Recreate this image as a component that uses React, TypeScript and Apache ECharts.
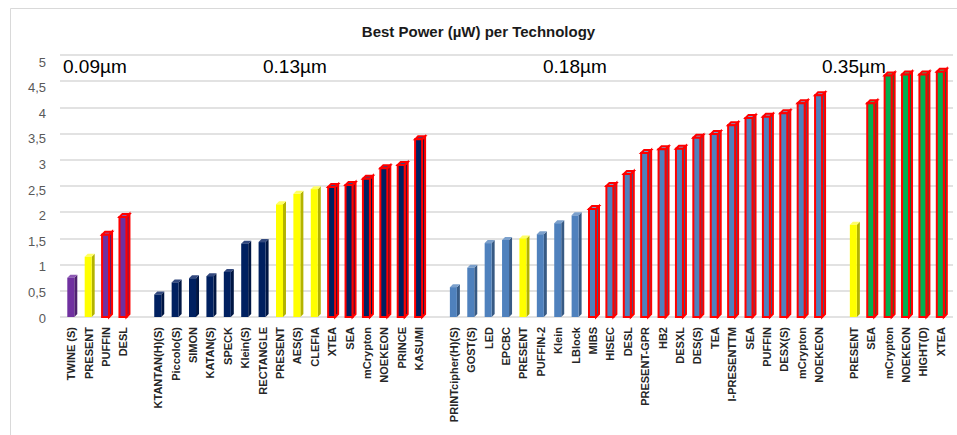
import React, { useEffect, useRef } from "react";
import * as echarts from "echarts";

// Categories (empty strings are the gaps between technology groups)
const categories: string[] = [
  "TWINE (S)", "PRESENT", "PUFFIN", "DESL",
  "",
  "KTANTAN(H)(S)", "Piccolo(S)", "SIMON", "KATAN(S)", "SPECK", "Klein(S)", "RECTANGLE",
  "PRESENT", "AES(S)", "CLEFIA", "XTEA", "SEA", "mCrypton", "NOEKEON", "PRINCE", "KASUMI",
  "",
  "PRINTcipher(H)(S)", "GOST(S)", "LED", "EPCBC", "PRESENT", "PUFFIN-2", "Klein", "LBlock",
  "MIBS", "HISEC", "DESL", "PRESENT-GPR", "HB2", "DESXL", "DES(S)", "TEA", "I-PRESENTTM",
  "SEA", "PUFFIN", "DESX(S)", "mCrypton", "NOEKEON",
  "",
  "PRESENT", "SEA", "mCrypton", "NOEKEON", "HIGHT(D)", "XTEA",
];

// Best power (µW)
const values: (number | null)[] = [
  0.75, 1.15, 1.57, 1.91,
  null,
  0.43, 0.66, 0.74, 0.78, 0.86, 1.40, 1.43, 2.15, 2.35, 2.44, 2.48, 2.52, 2.64, 2.84, 2.90, 3.39,
  null,
  0.57, 0.94, 1.41, 1.47, 1.50, 1.58, 1.79, 1.94, 2.06, 2.50, 2.73, 3.13, 3.20, 3.21, 3.42, 3.49,
  3.66, 3.80, 3.82, 3.89, 4.08, 4.23,
  null,
  1.76, 4.08, 4.61, 4.63, 4.63, 4.68,
];

// Fill kind per bar
const fills: string[] = [
  "purple", "yellow", "purple", "purple",
  "",
  "navy", "navy", "navy", "navy", "navy", "navy", "navy", "yellow", "yellow", "yellow",
  "navy", "navy", "navy", "navy", "navy", "navy",
  "",
  "blue", "blue", "blue", "blue", "yellow", "blue", "blue", "blue",
  "blue", "blue", "blue", "blue", "blue", "blue", "blue", "blue", "blue", "blue", "blue", "blue", "blue", "blue",
  "",
  "yellow", "green", "green", "green", "green", "green",
];

// Red outline flag per bar
const outlined: number[] = [
  0, 0, 1, 1,
  0,
  0, 0, 0, 0, 0, 0, 0, 0, 0, 0, 1, 1, 1, 1, 1, 1,
  0,
  0, 0, 0, 0, 0, 0, 0, 0, 1, 1, 1, 1, 1, 1, 1, 1, 1, 1, 1, 1, 1, 1,
  0,
  0, 1, 1, 1, 1, 1,
];

const groupLabels: string[] = ["0.09µm", "0.13µm", "0.18µm", "0.35µm"];
const groupLabelX: number[] = [63, 263, 543, 822];

const palette: Record<string, { front: string; side: string; top: string }> = {
  purple: { front: "#7030A0", side: "#4E2170", top: "#8D59B3" },
  yellow: { front: "#FFFF00", side: "#B3B300", top: "#FFFF66" },
  navy: { front: "#002060", side: "#001643", top: "#33497F" },
  blue: { front: "#4F81BD", side: "#375A84", top: "#7BA0CC" },
  green: { front: "#00B050", side: "#007B38", top: "#33C073" },
};

// rich styles that push the y labels down a little (3D perspective look)
const yRich: Record<string, any> = {};
for (let k = 0; k <= 10; k++) {
  const off = 1 + (6 * k) / 10;
  yRich["l" + k] = {
    fontFamily: "Liberation Sans",
    fontSize: 13,
    color: "#595959",
    padding: [2 * off, 0, 0, 0],
  };
}

export default function App() {
  const ref = useRef<HTMLDivElement>(null);
  useEffect(() => {
    if (!ref.current) return;
    const chart = echarts.init(ref.current, null, { renderer: "svg" });
    const data = values.map((v, i) => [i, v == null ? "-" : v]);
    chart.setOption({
      animation: false,
      backgroundColor: "#ffffff",
      title: {
        text: "Best Power (µW) per Technology",
        left: "center",
        top: 19,
        textStyle: { fontFamily: "Liberation Sans", fontSize: 15, fontWeight: "bold", color: "#1a1a1a" },
      },
      grid: [
        { left: 60, right: 4, top: 55, bottom: 118, containLabel: false },
        { left: 62.6, right: 7.5, top: 55, bottom: 118, containLabel: false },
      ],
      xAxis: [
        { type: "value", gridIndex: 0, min: 0, max: 1, show: false },
        {
          type: "category",
          gridIndex: 1,
          data: categories,
          axisLine: { show: false },
          axisTick: { show: false },
          splitLine: { show: false },
          axisLabel: {
            interval: 0,
            rotate: 90,
            margin: 10,
            fontFamily: "Liberation Sans",
            fontSize: 11,
            fontWeight: "bold",
            color: "#262626",
          },
        },
      ],
      yAxis: [
        {
          type: "value",
          gridIndex: 0,
          min: 0,
          max: 5,
          interval: 0.5,
          axisLine: { show: false },
          axisTick: { show: false },
          splitLine: { lineStyle: { color: "#D9D9D9", width: 1.5 } },
          axisLabel: {
            margin: 14,
            formatter: (v: number) => `{l${Math.round(v * 2)}|${String(v).replace(".", ",")}}`,
            rich: yRich,
          },
        },
        {
          type: "value",
          gridIndex: 1,
          min: 0,
          max: 5,
          interval: 0.5,
          show: false,
          splitLine: { show: false },
        },
      ],
      series: [
        {
          type: "custom",
          xAxisIndex: 1,
          yAxisIndex: 1,
          data,
          encode: { x: 0, y: 1 },
          renderItem: (params: any, api: any) => {
            const idx = api.value(0);
            const v = api.value(1);
            if (v == null || isNaN(v)) return null;
            const base = api.coord([idx, 0]);
            const top = api.coord([idx, v]);
            const w = 7;
            const d = 3;
            const x0 = base[0] - 4;
            const c = palette[fills[idx]];
            const border = outlined[idx] === 1;
            const stroke = border ? "#FF0000" : null;
            const lw = border ? 2 : 0;
            return {
              type: "group",
              children: [
                {
                  type: "polygon",
                  shape: {
                    points: [
                      [x0 + w, top[1]],
                      [x0 + w + d, top[1] - d],
                      [x0 + w + d, base[1] - d],
                      [x0 + w, base[1]],
                    ],
                  },
                  style: { fill: c.side, stroke, lineWidth: lw },
                },
                {
                  type: "polygon",
                  shape: {
                    points: [
                      [x0, top[1]],
                      [x0 + d, top[1] - d],
                      [x0 + w + d, top[1] - d],
                      [x0 + w, top[1]],
                    ],
                  },
                  style: { fill: c.top, stroke, lineWidth: lw },
                },
                {
                  type: "rect",
                  shape: { x: x0, y: top[1], width: w, height: base[1] - top[1] },
                  style: { fill: c.front, stroke, lineWidth: lw },
                },
              ],
            };
          },
        },
      ],
      graphic: [
        {
          type: "rect",
          shape: { x: 10.5, y: 8.5, width: 1000, height: 1000 },
          style: { fill: "none", stroke: "#D9D9D9", lineWidth: 1 },
          silent: true,
        },
        ...groupLabels.map((t, i) => ({
          type: "text",
          x: groupLabelX[i],
          y: 57,
          style: {
            text: t,
            fontFamily: "Liberation Sans",
            fontSize: 19,
            fill: "#000000",
          },
        })),
      ],
    });
    return () => chart.dispose();
  }, []);
  return (
    <div
      ref={ref}
      style={{ position: "fixed", left: 0, top: 0, width: 957, height: 435 }}
    />
  );
}
